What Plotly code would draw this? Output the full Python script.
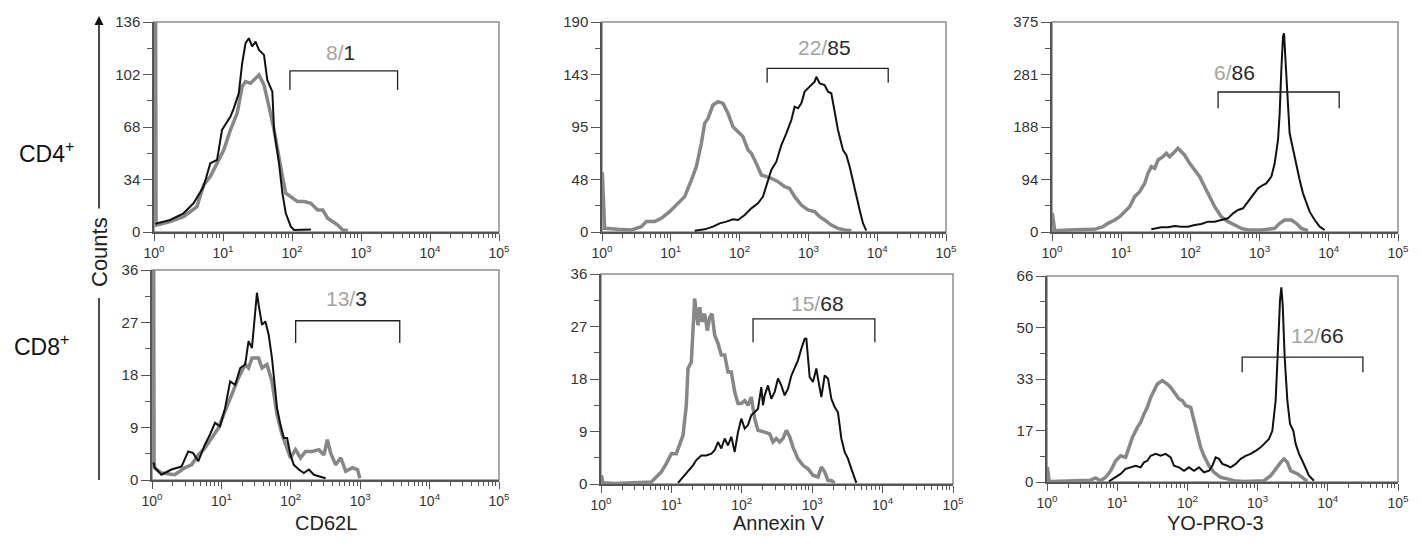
import plotly.graph_objects as go

# page body has an 8px margin, so the figure is laid out in page pixels minus this offset
OFF = 8
W, H = 1421 - 2 * OFF, 550 - 2 * OFF


def fx(px):
    return (px - OFF) / W


def fy(py):
    return 1 - (py - OFF) / H


# ---------------- data (x as log10 of fluorescence, y as counts) ----------------
# CD4+ / CD62L
a1_gray_log = [0.005, 0.02, 0.03, 0.039, 0.233, 0.428, 0.622, 0.719, 0.816, 0.914, 1.011, 1.108, 1.205, 1.278, 1.327, 1.399,
               1.472, 1.521, 1.594, 1.618, 1.667, 1.740, 1.788, 1.861, 1.910, 1.983, 2.080, 2.177, 2.274, 2.371, 2.444,
               2.517, 2.590, 2.663, 2.736, 2.809]
a1_gray_cnt = [200, 200, 6, 4.5, 6.7, 9.9, 16.4, 30.5, 35.9, 44.5, 53.1, 66.1, 76.9, 94.2, 97.4, 96.3,
               99.6, 101.7, 95.3, 89.9, 81.2, 66.1, 53.1, 35.9, 25.1, 22.9, 19.7, 19.7, 18.6, 14.3, 14.3,
               8.9, 6.7, 4.5, 1.3, 0.9]
a1_black_log = [0.02, 0.039, 0.233, 0.428, 0.573, 0.719, 0.816, 0.914, 0.986, 1.108, 1.156, 1.229, 1.278, 1.327, 1.375,
                1.424, 1.472, 1.521, 1.594, 1.642, 1.715, 1.740, 1.812, 1.861, 1.910, 1.983, 2.031, 2.225, 2.274]
a1_black_cnt = [5, 5.6, 7.8, 12.1, 18.6, 29.4, 44.5, 46.7, 66.1, 74.7, 80.1, 89.9, 109.3, 122.3, 125.5,
                120.1, 123.3, 117.9, 114.7, 98.5, 90.9, 66.1, 44.5, 25.1, 12.1, 3.5, 1.3, 1.3, 1.7]

# CD8+ / CD62L
a2_gray_log = [0.005, 0.02, 0.03, 0.039, 0.135, 0.329, 0.473, 0.570, 0.667, 0.763, 0.860, 0.957, 1.053, 1.150, 1.246,
               1.343, 1.391, 1.440, 1.536, 1.585, 1.657, 1.729, 1.802, 1.874, 1.923, 1.995, 2.068, 2.140, 2.213,
               2.309, 2.406, 2.478, 2.527, 2.575, 2.647, 2.720, 2.792, 2.889, 2.961, 2.995]
a2_gray_cnt = [60, 60, 3, 2.1, 1.2, 0.9, 2.1, 2.6, 4.3, 5.5, 7.2, 8.9, 11.8, 14.6, 17.5,
               19.8, 19.2, 20.9, 20.9, 19.2, 19.8, 16.9, 11.2, 7.8, 6.1, 3.8, 5.2, 3.8, 4.9,
               4.9, 5.2, 4.3, 6.9, 4.6, 2.6, 3.8, 1.5, 2.1, 1.8, 0.3]
a2_black_log = [0.02, 0.039, 0.135, 0.280, 0.425, 0.522, 0.594, 0.667, 0.763, 0.836, 0.908, 0.981, 1.053, 1.126, 1.198,
                1.271, 1.343, 1.391, 1.440, 1.488, 1.512, 1.536, 1.585, 1.633, 1.681, 1.729, 1.754, 1.802, 1.850,
                1.899, 1.947, 1.995, 2.043, 2.116, 2.188, 2.261, 2.333, 2.406, 2.502]
a2_black_cnt = [3, 2.1, 0.9, 1.8, 2.3, 4.9, 4.6, 3.2, 6.1, 7.8, 9.8, 9.2, 12.3, 16.9, 16.3,
                19.2, 19.8, 23.8, 22.6, 29.5, 32.1, 30.1, 26.6, 27.2, 24.9, 20.9, 17.5, 12.3, 9.5,
                7.2, 7.2, 4.3, 2.6, 1.8, 1.2, 1.8, 0.9, 0.6, 0.3]

# CD4+ / Annexin V
b1_gray_log = [0.005, 0.03, 0.039, 0.233, 0.426, 0.572, 0.644, 0.765, 0.862, 0.983, 1.105, 1.202, 1.299, 1.371, 1.444,
               1.492, 1.541, 1.613, 1.686, 1.759, 1.831, 1.904, 1.977, 2.049, 2.122, 2.171, 2.243, 2.316, 2.388,
               2.461, 2.558, 2.655, 2.727, 2.800, 2.897, 2.994, 3.091, 3.164, 3.236, 3.333, 3.430, 3.527, 3.624]
b1_gray_cnt = [54, 3.5, 3.3, 2.4, 1.8, 4.8, 9.4, 9.4, 12.4, 18.4, 25.9, 32.0, 47.0, 59.1, 80.2,
               98.3, 102.8, 114.9, 117.9, 116.4, 107.4, 95.3, 90.8, 86.3, 74.2, 71.2, 62.1, 51.6, 50.1,
               48.6, 45.5, 41.0, 39.5, 32.0, 24.4, 19.9, 18.4, 13.9, 10.9, 6.3, 3.3, 1.8, 1.2]
b1_black_log = [1.347, 1.492, 1.613, 1.710, 1.807, 1.904, 1.977, 2.074, 2.171, 2.267, 2.340, 2.388, 2.461, 2.534, 2.607,
                2.679, 2.752, 2.800, 2.849, 2.897, 2.946, 3.018, 3.091, 3.115, 3.164, 3.236, 3.285, 3.333, 3.382,
                3.430, 3.503, 3.551, 3.600, 3.673, 3.745, 3.794, 3.842]
b1_black_cnt = [1.2, 2.4, 4.8, 7.8, 9.4, 11.5, 10.9, 15.4, 21.4, 25.9, 32.0, 41.0, 56.1, 63.6, 78.7,
                89.3, 101.3, 113.4, 111.9, 116.4, 127.0, 131.5, 136.0, 140.5, 134.5, 133.0, 127.0, 125.5, 110.4,
                92.3, 74.2, 69.7, 59.1, 38.0, 19.9, 7.8, 1.2]

# CD8+ / Annexin V
b2_gray_log = [0.005, 0.03, 0.2, 0.715, 0.786, 0.857, 0.928, 0.999, 1.070, 1.117, 1.165, 1.212, 1.236, 1.283, 1.307, 1.330,
               1.354, 1.378, 1.402, 1.435, 1.473, 1.510, 1.544, 1.577, 1.615, 1.662, 1.709, 1.757, 1.804, 1.851,
               1.899, 1.946, 1.993, 2.041, 2.088, 2.135, 2.183, 2.230, 2.325, 2.396, 2.443, 2.490, 2.538, 2.585,
               2.633, 2.680, 2.727, 2.798, 2.869, 2.940, 3.011, 3.082, 3.130, 3.177, 3.224, 3.272, 3.319]
b2_gray_cnt = [1.5, 0.2, 0.1, 0.34, 1.2, 2.06, 3.49, 5.2, 5.2, 6.63, 8.34, 13.5, 19.8, 20.9, 27.2, 31.8,
               29.5, 27.2, 30.3, 27.8, 29.2, 26.3, 28.6, 29.2, 25.5, 24.1, 22.1, 22.1, 19.2, 19.2,
               15.8, 13.8, 13.8, 14.3, 13.5, 14.9, 11.2, 9.2, 8.9, 8.6, 7.2, 7.8, 7.2, 7.8,
               9.2, 8.1, 6.3, 4.3, 3.2, 2.6, 1.5, 1.2, 2.9, 2.1, 0.6, 0.6, 0.2]
b2_black_log = [1.094, 1.165, 1.236, 1.307, 1.354, 1.425, 1.496, 1.567, 1.615, 1.662, 1.709, 1.757, 1.804, 1.851, 1.899,
                1.946, 1.993, 2.041, 2.088, 2.135, 2.183, 2.230, 2.277, 2.301, 2.325, 2.372, 2.419, 2.467, 2.514,
                2.561, 2.609, 2.656, 2.704, 2.751, 2.798, 2.846, 2.893, 2.917, 2.940, 2.964, 3.011, 3.059, 3.082,
                3.130, 3.177, 3.224, 3.272, 3.319, 3.366, 3.414, 3.461, 3.509, 3.556, 3.603, 3.627]
b2_black_cnt = [0.2, 1.2, 2.3, 3.2, 4.1, 4.9, 4.9, 5.2, 5.8, 7.2, 6.1, 7.8, 6.6, 8.1, 5.5,
                8.9, 11.2, 9.5, 10.1, 11.8, 12.3, 12.9, 16.6, 13.5, 15.2, 16.9, 14.6, 15.8, 18.1,
                16.9, 15.2, 16.3, 18.6, 19.8, 21.2, 23.2, 24.9, 24.9, 21.5, 18.3, 17.5, 19.8, 18.1,
                14.9, 18.6, 18.1, 14.6, 13.2, 12.3, 7.8, 5.5, 4.3, 2.6, 1.2, 0.2]

# CD4+ / YO-PRO-3
c1_gray_log = [0.005, 0.03, 0.039, 0.231, 0.424, 0.617, 0.737, 0.809, 0.906, 0.978, 1.050, 1.122, 1.195, 1.267, 1.339,
               1.387, 1.435, 1.484, 1.532, 1.604, 1.652, 1.700, 1.773, 1.821, 1.869, 1.917, 1.989, 2.062, 2.134,
               2.206, 2.278, 2.351, 2.447, 2.543, 2.640, 2.736, 2.832, 3.025, 3.218, 3.290, 3.362, 3.459, 3.531,
               3.603, 3.699]
c1_gray_cnt = [34, 3, 2.4, 3.6, 3.6, 4.8, 9.5, 15.5, 21.4, 27.4, 36.3, 45.2, 63.1, 72.0, 86.9,
               104.8, 116.7, 113.7, 128.6, 134.5, 140.5, 134.5, 143.4, 149.4, 143.4, 137.5, 122.6, 110.7, 98.8,
               80.9, 63.1, 45.2, 27.4, 18.5, 12.5, 6.5, 3.6, 3.6, 6.5, 15.5, 21.4, 21.4, 15.5,
               6.5, 2.4]
c1_black_log = [1.435, 1.580, 1.676, 1.773, 1.869, 1.965, 2.062, 2.158, 2.254, 2.351, 2.447, 2.543, 2.616, 2.688, 2.760,
                2.832, 2.905, 2.977, 3.049, 3.097, 3.170, 3.218, 3.266, 3.290, 3.314, 3.338, 3.353, 3.372, 3.401,
                3.434, 3.483, 3.531, 3.579, 3.627, 3.675, 3.723, 3.796, 3.868, 3.940]
c1_black_cnt = [4.8, 8.3, 8.3, 10.7, 9.5, 9.5, 12.5, 14.3, 18.5, 18.5, 21.4, 24.4, 33.3, 39.3, 42.3,
                54.2, 66.1, 78.0, 83.9, 86.9, 98.8, 122.6, 164.3, 211.9, 289.3, 348.8, 354.7, 319.0, 247.6,
                176.2, 146.4, 122.6, 92.9, 69.0, 54.2, 36.3, 21.4, 9.5, 3.6]

# CD8+ / YO-PRO-3
c2_gray_log = [0.005, 0.03, 0.052, 0.432, 0.622, 0.693, 0.764, 0.836, 0.907, 0.978, 1.049, 1.121, 1.168, 1.216, 1.287,
               1.334, 1.382, 1.429, 1.477, 1.524, 1.572, 1.643, 1.714, 1.762, 1.833, 1.880, 1.928, 1.975, 2.047,
               2.094, 2.141, 2.189, 2.236, 2.308, 2.379, 2.474, 2.569, 2.664, 2.806, 2.996, 3.091, 3.186, 3.257,
               3.329, 3.376, 3.424, 3.471, 3.566, 3.637, 3.708]
c2_gray_cnt = [4.8, 0.4, 0.2, 0.4, 0.6, 1.3, 0.4, 1.5, 3.6, 6.8, 8.4, 7.9, 11.1, 14.3, 17.5,
               19.1, 21.8, 23.9, 27.1, 29.3, 31.4, 32.5, 31.4, 30.3, 28.2, 26.6, 26.1, 24.5, 23.9,
               19.7, 15.9, 11.1, 8.4, 5.2, 3.1, 1.5, 1.0, 0.4, 0.2, 0.2, 0.4, 2.0, 4.2,
               6.3, 7.4, 6.3, 3.6, 2.6, 1.5, 0.2]
c2_black_log = [0.883, 0.978, 1.049, 1.121, 1.192, 1.263, 1.334, 1.382, 1.429, 1.477, 1.548, 1.619, 1.690, 1.762, 1.809,
                1.880, 1.952, 2.023, 2.094, 2.165, 2.236, 2.308, 2.355, 2.403, 2.450, 2.498, 2.569, 2.616, 2.688,
                2.759, 2.830, 2.901, 2.972, 3.044, 3.115, 3.162, 3.210, 3.257, 3.295, 3.319, 3.338, 3.357, 3.386,
                3.424, 3.462, 3.509, 3.542, 3.590, 3.637, 3.685, 3.732, 3.803]
c2_black_cnt = [0.2, 1.5, 2.6, 4.2, 4.7, 5.2, 4.7, 6.3, 6.8, 8.4, 9.0, 8.4, 9.0, 7.9, 5.2,
                4.7, 3.6, 4.7, 3.6, 4.7, 3.1, 3.6, 5.2, 7.9, 7.4, 5.8, 5.2, 4.7, 5.8,
                7.4, 8.4, 9.0, 10.0, 11.1, 12.7, 13.8, 16.4, 26.1, 45.3, 58.1, 62.4, 57.0, 39.9,
                26.1, 18.6, 16.4, 12.2, 9.0, 6.8, 4.2, 2.0, 0.4]

# y tick labels per panel
a1_yticks = ["0", "34", "68", "102", "136"]
a2_yticks = ["0", "9", "18", "27", "36"]
b1_yticks = ["0", "48", "95", "143", "190"]
b2_yticks = ["0", "9", "18", "27", "36"]
c1_yticks = ["0", "94", "188", "281", "375"]
c2_yticks = ["0", "17", "33", "50", "66"]
y_max = [136, 36, 190, 36, 375, 66]

x_tick_labels = ["10<sup>0</sup>", "10<sup>1</sup>", "10<sup>2</sup>", "10<sup>3</sup>", "10<sup>4</sup>", "10<sup>5</sup>"]

# gates: (low log, high log, top count, end count) and labels (grey %, black %)
gate_lo = [1.97, 2.07, 2.40, 2.16, 2.40, 2.78]
gate_hi = [3.53, 3.57, 4.16, 3.89, 4.15, 4.50]
gate_top = [104.3, 27.3, 148, 28.3, 250, 40.0]
gate_end = [92, 23.5, 135, 24.3, 221, 35.2]
gate_grey_pct = ["8", "13", "22", "15", "6", "12"]
gate_black_pct = ["1", "3", "85", "68", "86", "66"]
label_log = [2.71, 2.80, 3.24, 3.07, 2.64, 3.86]
label_cnt = [116, 31.2, 167, 31.0, 284, 46.8]

row_labels = ["CD4<sup>+</sup>", "CD8<sup>+</sup>"]
x_titles = ["CD62L", "Annexin V", "YO-PRO-3"]
y_title = "Counts"

# ---------------- layout geometry (page pixels) ----------------
panel_px = [  # x0, x1, ytop, ybottom
    (154, 499, 22, 232),
    (152, 499, 270, 480),
    (602, 946, 22, 232),
    (601, 953, 274, 484),
    (1052, 1398, 22, 232),
    (1047, 1398, 276, 482),
]

panels = [
    (a1_gray_log, a1_gray_cnt, a1_black_log, a1_black_cnt, a1_yticks),
    (a2_gray_log, a2_gray_cnt, a2_black_log, a2_black_cnt, a2_yticks),
    (b1_gray_log, b1_gray_cnt, b1_black_log, b1_black_cnt, b1_yticks),
    (b2_gray_log, b2_gray_cnt, b2_black_log, b2_black_cnt, b2_yticks),
    (c1_gray_log, c1_gray_cnt, c1_black_log, c1_black_cnt, c1_yticks),
    (c2_gray_log, c2_gray_cnt, c2_black_log, c2_black_cnt, c2_yticks),
]

FONT = "Arial, Liberation Sans, sans-serif"
GRAY = "#878787"
BLACK = "#111111"
AX = "#555555"

fig = go.Figure()
minor_x = [m * 10 ** k for k in range(5) for m in range(2, 10)]

for i, (glog, gcnt, blog, bcnt, yt) in enumerate(panels):
    n = i + 1
    xa = "x" if n == 1 else f"x{n}"
    ya = "y" if n == 1 else f"y{n}"
    fig.add_trace(go.Scatter(x=[10 ** v for v in glog], y=gcnt, mode="lines",
                             line=dict(color=GRAY, width=3.5),
                             xaxis=xa, yaxis=ya, showlegend=False, hoverinfo="skip"))
    fig.add_trace(go.Scatter(x=[10 ** v for v in blog], y=bcnt, mode="lines",
                             line=dict(color=BLACK, width=2),
                             xaxis=xa, yaxis=ya, showlegend=False, hoverinfo="skip"))
    lo, hi = gate_lo[i], gate_hi[i]
    fig.add_trace(go.Scatter(x=[10 ** lo, 10 ** lo, 10 ** hi, 10 ** hi],
                             y=[gate_end[i], gate_top[i], gate_top[i], gate_end[i]],
                             mode="lines", line=dict(color="#222222", width=1.3),
                             xaxis=xa, yaxis=ya, showlegend=False, hoverinfo="skip"))
    fig.add_annotation(x=label_log[i], y=label_cnt[i], xref=xa, yref=ya, showarrow=False,
                       xanchor="center", yanchor="middle",
                       text=f"<span style='color:#a3a3a3'>{gate_grey_pct[i]}/</span>"
                            f"<span style='color:#2a2a2a'>{gate_black_pct[i]}</span>",
                       font=dict(family=FONT, size=21))

    x0, x1, yt0, yb0 = panel_px[i]
    ymax = y_max[i]
    tv = [ymax * k / 4 for k in range(5)]
    mv = [ymax * (2 * k + 1) / 8 for k in range(4)]
    xkey = "xaxis" if n == 1 else f"xaxis{n}"
    ykey = "yaxis" if n == 1 else f"yaxis{n}"
    fig.layout[xkey] = dict(
        type="log", range=[0, 5], domain=[fx(x0), fx(x1)], anchor=ya, automargin=False,
        tickvals=[1, 10, 100, 1000, 10000, 100000], ticktext=x_tick_labels,
        ticks="outside", ticklen=7, tickwidth=1.3, tickcolor=AX,
        showline=True, linecolor=AX, linewidth=2, showgrid=False, zeroline=False,
        tickfont=dict(family=FONT, size=14, color="#333333"),
        minor=dict(tickmode="array", tickvals=minor_x, ticks="outside", ticklen=4,
                   tickwidth=1, tickcolor=AX, showgrid=False),
        fixedrange=True,
    )
    fig.layout[ykey] = dict(
        range=[0, ymax], domain=[fy(yb0), fy(yt0)], anchor=xa, automargin=False,
        tickvals=tv, ticktext=yt, ticks="outside", ticklen=9, tickwidth=1.3, tickcolor=AX,
        showline=True, linecolor=AX, linewidth=1.5, showgrid=False, zeroline=False,
        tickfont=dict(family=FONT, size=15, color="#333333"),
        minor=dict(tickmode="array", tickvals=mv, ticks="outside", ticklen=5,
                   tickwidth=1, tickcolor=AX, showgrid=False),
        fixedrange=True,
    )
    fig.add_shape(type="rect", xref=f"{xa} domain", yref=f"{ya} domain",
                  x0=0, x1=1, y0=0, y1=1, line=dict(color="#8f8f8f", width=1.5), layer="below")

# row labels
fig.add_annotation(x=fx(17), y=fy(152), xref="paper", yref="paper", xanchor="left", yanchor="middle",
                   showarrow=False, text=row_labels[0], font=dict(family=FONT, size=23, color="#111111"))
fig.add_annotation(x=fx(12), y=fy(345), xref="paper", yref="paper", xanchor="left", yanchor="middle",
                   showarrow=False, text=row_labels[1], font=dict(family=FONT, size=23, color="#111111"))

# x titles
for xc, t in zip([326, 779, 1215], x_titles):
    fig.add_annotation(x=fx(xc), y=fy(523), xref="paper", yref="paper", xanchor="center", yanchor="middle",
                       showarrow=False, text=t, font=dict(family=FONT, size=20, color="#222222"))

# Counts label with arrow
fig.add_annotation(x=fx(99), y=fy(252), xref="paper", yref="paper", xanchor="center", yanchor="middle",
                   showarrow=False, textangle=-90,
                   text=y_title, font=dict(family=FONT, size=22, color="#222222"))
fig.add_annotation(x=fx(99), y=fy(16), ax=0, ay=194, xref="paper", yref="paper",
                   axref="pixel", ayref="pixel", text="", showarrow=True, arrowhead=2, arrowsize=1.2,
                   arrowwidth=1.5, arrowcolor="#111111")
fig.add_shape(type="line", xref="paper", yref="paper", x0=fx(99), x1=fx(99),
              y0=fy(298), y1=fy(480), line=dict(color="#111111", width=1.5))

fig.update_layout(width=W, height=H, margin=dict(l=0, r=0, t=0, b=0, autoexpand=False),
                  paper_bgcolor="white", plot_bgcolor="white", showlegend=False)

fig.write_html("out.html")
